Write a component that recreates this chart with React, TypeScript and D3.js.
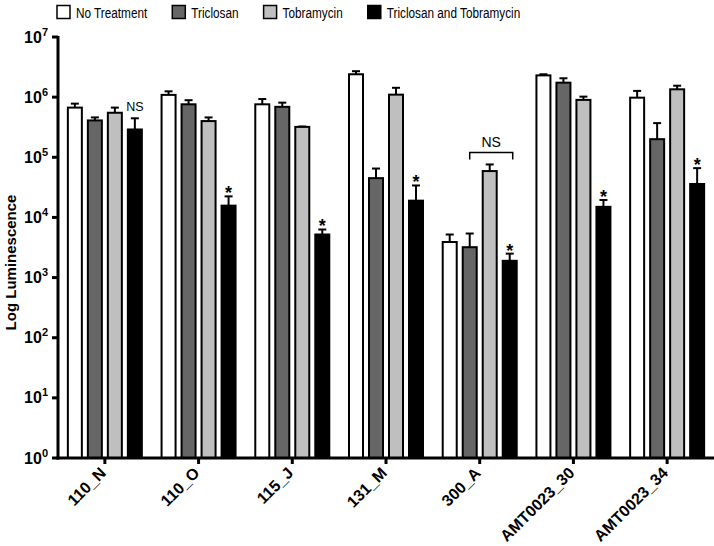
import React, { useEffect, useRef } from 'react';
import { scaleBand, scaleLog, select } from 'd3';

const groups = ['110_N', '110_O', '115_J', '131_M', '300_A', 'AMT0023_30', 'AMT0023_34'];
const seriesNames = ['No Treatment', 'Triclosan', 'Tobramycin', 'Triclosan and Tobramycin'];
const seriesColors = ['#ffffff', '#666666', '#bfbfbf', '#000000'];

// mean luminescence per strain
const noTreatment = [6.7e5, 1.09e6, 7.6e5, 2.4e6, 3.9e3, 2.3e6, 9.8e5];
const triclosan = [4.1e5, 7.6e5, 6.9e5, 4.5e4, 3.2e3, 1.74e6, 2.0e5];
const tobramycin = [5.5e5, 4.0e5, 3.2e5, 1.1e6, 5.9e4, 9.0e5, 1.35e6];
const combined = [2.9e5, 1.57e4, 5.2e3, 1.9e4, 1.9e3, 1.5e4, 3.6e4];

// SEM (upper error bar)
const noTreatmentSem = [1.1e5, 1.6e5, 1.7e5, 3.0e5, 1.3e3, 1.0e5, 2.9e5];
const triclosanSem = [5e4, 1.3e5, 1.2e5, 2.0e4, 2.2e3, 3.2e5, 1.7e5];
const tobramycinSem = [1.2e5, 6e4, 5e3, 3.3e5, 1.7e4, 1.2e5, 2.0e5];
const combinedSem = [1.55e5, 6.7e3, 1.1e3, 1.5e4, 6e2, 4.5e3, 3.0e4];

const yTickExps = [0, 1, 2, 3, 4, 5, 6, 7];

// significance marks on the combined bar
const comboMarks = ['NS', '*', '*', '*', '*', '*', '*'];
// bracket: group, from series, to series, label
const brackets = [{ group: '300_A', from: 1, to: 3, label: 'NS' }];

function App() {
    const svgRef = useRef(null);
    const width = 714;
    const height = 546;
    const left = 58;
    const right = 714;
    const top = 37;
    const bottom = 458;
    const font = '"Liberation Sans", Arial, sans-serif';

    useEffect(() => {
        const svg = select(svgRef.current);
        svg.selectAll('*').remove();

        const means = [noTreatment, triclosan, tobramycin, combined];
        const sems = [noTreatmentSem, triclosanSem, tobramycinSem, combinedSem];

        const x = scaleBand().domain(groups).range([left, right]).padding(0);
        const xInner = scaleBand().domain(seriesNames).range([-37, 37]).paddingInner(0.3);
        const y = scaleLog().domain([1, 1e7]).range([bottom, top]);

        const center = (g) => x(g) + x.bandwidth() / 2;
        const barMid = (g, s) => center(g) + xInner(seriesNames[s]) + xInner.bandwidth() / 2;

        const plot = svg.append('g');

        // bars
        seriesNames.forEach((name, s) => {
            const grp = plot.append('g').attr('class', 'series');
            groups.forEach((g, i) => {
                const v = means[s][i];
                const hi = v + sems[s][i];
                const bx = center(g) + xInner(name);
                const mid = bx + xInner.bandwidth() / 2;
                grp.append('line')
                    .attr('x1', mid).attr('x2', mid)
                    .attr('y1', y(v)).attr('y2', y(hi))
                    .attr('stroke', '#000').attr('stroke-width', 2);
                grp.append('line')
                    .attr('x1', mid - 4).attr('x2', mid + 4)
                    .attr('y1', y(hi)).attr('y2', y(hi))
                    .attr('stroke', '#000').attr('stroke-width', 2);
                grp.append('rect')
                    .attr('x', bx)
                    .attr('y', y(v))
                    .attr('width', xInner.bandwidth())
                    .attr('height', y(1) - y(v))
                    .attr('fill', seriesColors[s])
                    .attr('stroke', '#000')
                    .attr('stroke-width', 2);
            });
        });

        // marks above combined bars
        groups.forEach((g, i) => {
            const hi = combined[i] + combinedSem[i];
            const m = comboMarks[i];
            plot.append('text')
                .attr('x', barMid(g, 3))
                .attr('y', m === '*' ? y(hi) + 3 : y(hi) - 7)
                .attr('text-anchor', 'middle')
                .attr('font-family', font)
                .attr('font-size', m === '*' ? 18 : 12.5)
                .attr('font-weight', m === '*' ? 'bold' : 'normal')
                .text(m);
        });

        brackets.forEach((b) => {
            const i = groups.indexOf(b.group);
            const x1 = barMid(b.group, b.from);
            const x2 = barMid(b.group, b.to) + 3;
            const topVal = Math.max(...means.map((m, s) => m[i] + sems[s][i]).slice(b.from, b.to + 1));
            const by = y(topVal) - 12;
            plot.append('path')
                .attr('d', `M${x1},${by + 7}V${by}H${x2}V${by + 7}`)
                .attr('fill', 'none')
                .attr('stroke', '#000')
                .attr('stroke-width', 1.5);
            plot.append('text')
                .attr('x', (x1 + x2) / 2)
                .attr('y', by - 5)
                .attr('text-anchor', 'middle')
                .attr('font-family', font)
                .attr('font-size', 14)
                .text(b.label);
        });

        // y axis
        const yAxis = svg.append('g');
        yAxis.append('line')
            .attr('x1', left).attr('x2', left)
            .attr('y1', top - 1).attr('y2', bottom + 1.5)
            .attr('stroke', '#000').attr('stroke-width', 3);
        yTickExps.forEach((e) => {
            const ty = y(Math.pow(10, e));
            yAxis.append('line')
                .attr('x1', left - 6).attr('x2', left)
                .attr('y1', ty).attr('y2', ty)
                .attr('stroke', '#000').attr('stroke-width', 3);
            const t = yAxis.append('text')
                .attr('x', left - 10)
                .attr('y', ty + 5.5)
                .attr('text-anchor', 'end')
                .attr('font-family', font)
                .attr('font-weight', 'bold')
                .attr('font-size', 16);
            t.append('tspan').text('10');
            t.append('tspan').attr('dy', -7).attr('font-size', 11).text(String(e));
        });
        svg.append('text')
            .attr('transform', `translate(16, ${(top + bottom) / 2 + 15}) rotate(-90)`)
            .attr('text-anchor', 'middle')
            .attr('font-family', font)
            .attr('font-weight', 'bold')
            .attr('font-size', 15)
            .text('Log Luminescence');

        // x axis
        const xAxis = svg.append('g');
        xAxis.append('line')
            .attr('x1', left - 1.5).attr('x2', right)
            .attr('y1', bottom).attr('y2', bottom)
            .attr('stroke', '#000').attr('stroke-width', 3);
        groups.forEach((g) => {
            const cx = center(g);
            xAxis.append('line')
                .attr('x1', cx).attr('x2', cx)
                .attr('y1', bottom).attr('y2', bottom + 6)
                .attr('stroke', '#000').attr('stroke-width', 3);
            xAxis.append('text')
                .attr('transform', `translate(${cx + 2},${bottom + 16}) rotate(-45)`)
                .attr('text-anchor', 'end')
                .attr('font-family', font)
                .attr('font-weight', 'bold')
                .attr('font-size', 16)
                .text(g);
        });

        // legend
        const legend = svg.append('g');
        let lx = 57;
        seriesNames.forEach((name, s) => {
            legend.append('rect')
                .attr('x', lx).attr('y', 5.5)
                .attr('width', 13).attr('height', 13)
                .attr('fill', seriesColors[s])
                .attr('stroke', '#000').attr('stroke-width', 1.5);
            const t = legend.append('text')
                .attr('transform', `translate(${lx + 19}, 17.5) scale(0.76, 1)`)
                .attr('font-family', font)
                .attr('font-size', 15.5)
                .text(name);
            const w = t.node().getComputedTextLength() * 0.76;
            lx += 19 + w + 25;
        });
    }, []);

    return (
        <svg
            ref={svgRef}
            width={width}
            height={height}
            style={{ position: 'absolute', left: 0, top: 0, background: '#fff' }}
        ></svg>
    );
}

export default App;
